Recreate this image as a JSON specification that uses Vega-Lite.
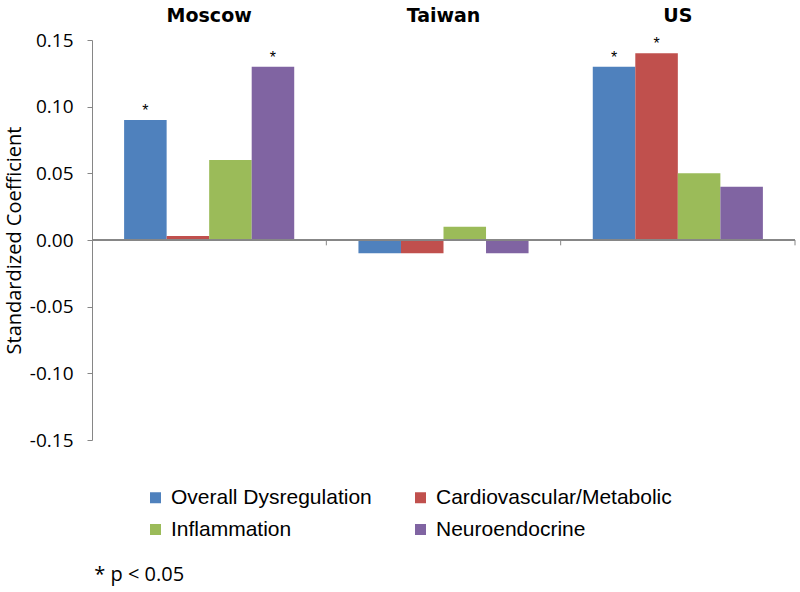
{
  "$schema": "https://vega.github.io/schema/vega-lite/v6.json",
  "width": 703,
  "height": 400,
  "autosize": {"type": "none"},
  "padding": {"left": 92, "top": 40, "right": 5, "bottom": 152},
  "background": "white",
  "config": {"view": {"stroke": null}},
  "data": {
    "values": [
      {"country": "Moscow", "measure": "Overall Dysregulation", "value": 0.09, "star": "*"},
      {"country": "Moscow", "measure": "Cardiovascular/Metabolic", "value": 0.003, "star": ""},
      {"country": "Moscow", "measure": "Inflammation", "value": 0.06, "star": ""},
      {"country": "Moscow", "measure": "Neuroendocrine", "value": 0.13, "star": "*"},
      {"country": "Taiwan", "measure": "Overall Dysregulation", "value": -0.01, "star": ""},
      {"country": "Taiwan", "measure": "Cardiovascular/Metabolic", "value": -0.01, "star": ""},
      {"country": "Taiwan", "measure": "Inflammation", "value": 0.01, "star": ""},
      {"country": "Taiwan", "measure": "Neuroendocrine", "value": -0.01, "star": ""},
      {"country": "US", "measure": "Overall Dysregulation", "value": 0.13, "star": "*"},
      {"country": "US", "measure": "Cardiovascular/Metabolic", "value": 0.14, "star": "*"},
      {"country": "US", "measure": "Inflammation", "value": 0.05, "star": ""},
      {"country": "US", "measure": "Neuroendocrine", "value": 0.04, "star": ""}
    ]
  },
  "title": {
    "text": "* p < 0.05",
    "orient": "bottom",
    "anchor": "start",
    "font": "Open Sans",
    "fontSize": 20,
    "fontWeight": "normal",
    "color": "black",
    "offset": 25,
    "dx": 90
  },
  "resolve": {"axis": {"x": "independent", "y": "independent"}},
  "layer": [
    {
      "mark": {"type": "bar"},
      "encoding": {
        "x": {
          "field": "country",
          "type": "nominal",
          "sort": ["Moscow", "Taiwan", "US"],
          "scale": {"paddingInner": 0, "paddingOuter": 0},
          "axis": {
            "orient": "top",
            "title": null,
            "domain": false,
            "ticks": false,
            "labelAngle": 0,
            "labelFont": "DejaVu Sans",
            "labelFontWeight": "bold",
            "labelFontSize": 19,
            "labelColor": "black",
            "labelPadding": 15
          }
        },
        "xOffset": {
          "field": "measure",
          "type": "nominal",
          "sort": ["Overall Dysregulation", "Cardiovascular/Metabolic", "Inflammation", "Neuroendocrine"],
          "scale": {"paddingInner": 0, "paddingOuter": 0.755}
        },
        "y": {
          "field": "value",
          "type": "quantitative",
          "scale": {"domain": [-0.15, 0.15], "nice": false, "zero": false},
          "axis": {
            "values": [-0.15, -0.1, -0.05, 0, 0.05, 0.1, 0.15],
            "labelExpr": "replace(format(datum.value, '.2f'), '\u2212', '-')",
            "labelFont": "Open Sans",
            "labelFontSize": 19,
            "labelColor": "black",
            "labelPadding": 14,
            "tickColor": "#868686",
            "domainColor": "#868686",
            "tickSize": 5,
            "grid": false,
            "title": "Standardized Coefficient",
            "titleFont": "Open Sans",
            "titleFontSize": 20,
            "titleFontWeight": "normal",
            "titleColor": "black",
            "titlePadding": 5
          }
        },
        "color": {
          "field": "measure",
          "type": "nominal",
          "scale": {
            "domain": ["Overall Dysregulation", "Inflammation", "Cardiovascular/Metabolic", "Neuroendocrine"],
            "range": ["#4F81BD", "#9BBB59", "#C0504D", "#8064A2"]
          },
          "legend": {
            "orient": "none",
            "legendX": 53,
            "legendY": 447,
            "title": null,
            "columns": 2,
            "columnPadding": 38,
            "rowPadding": 10,
            "padding": 0,
            "symbolType": "square",
            "symbolSize": 121,
            "symbolStrokeWidth": 0,
            "labelFont": "Liberation Sans",
            "labelFontSize": 21,
            "labelColor": "black",
            "labelOffset": 5,
            "labelLimit": 400
          }
        }
      }
    },
    {
      "mark": {"type": "rule", "color": "#868686"},
      "encoding": {"y": {"datum": 0, "type": "quantitative", "axis": null}}
    },
    {
      "transform": [{"filter": "datum.measure == 'Overall Dysregulation'"}],
      "mark": {"type": "rule", "color": "#868686"},
      "encoding": {
        "x": {"field": "country", "type": "nominal", "bandPosition": 1, "axis": null},
        "y": {"datum": 0, "type": "quantitative", "axis": null},
        "y2": {"datum": -0.004}
      }
    },
    {
      "mark": {"type": "text", "font": "Liberation Sans", "fontSize": 16, "color": "black", "baseline": "alphabetic", "dy": -4},
      "encoding": {
        "x": {"field": "country", "type": "nominal", "axis": null},
        "xOffset": {
          "field": "measure",
          "type": "nominal",
          "sort": ["Overall Dysregulation", "Cardiovascular/Metabolic", "Inflammation", "Neuroendocrine"]
        },
        "y": {"field": "value", "type": "quantitative", "axis": null},
        "text": {"field": "star"}
      }
    }
  ]
}
